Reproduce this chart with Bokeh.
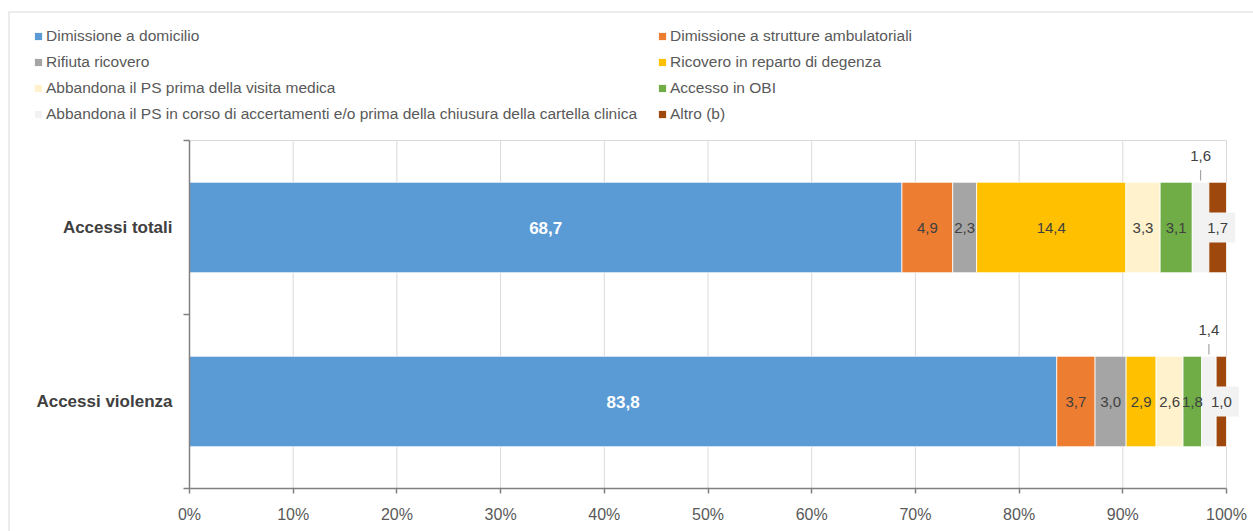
import numpy as np
from bokeh.plotting import figure
from bokeh.models import (ColumnDataSource, Legend, LegendItem, FixedTicker,
                          PrintfTickFormatter, Range1d, LinearAxis)
from bokeh.core.properties import value
from bokeh.embed import file_html
from bokeh.resources import INLINE

# ---------------- data ----------------
categories = ["Accessi violenza", "Accessi totali"]
series = [
    "Dimissione a domicilio",
    "Dimissione a strutture ambulatoriali",
    "Rifiuta ricovero",
    "Ricovero in reparto di degenza",
    "Abbandona il PS prima della visita medica",
    "Accesso in OBI",
    "Abbandona il PS in corso di accertamenti e/o prima della chiusura della cartella clinica",
    "Altro (b)",
]
colors = ["#5B9BD5", "#ED7D31", "#A5A5A5", "#FFC000", "#FFF2CC", "#70AD47", "#F2F2F2", "#9E480E"]
accessi_totali = [68.7, 4.9, 2.3, 14.4, 3.3, 3.1, 1.6, 1.7]
accessi_violenza = [83.8, 3.7, 3.0, 2.9, 2.6, 1.8, 1.4, 1.0]
x_ticks = [0, 10, 20, 30, 40, 50, 60, 70, 80, 90, 100]

FONT = "Liberation Sans"
BAR_H = 0.52
TEXT_C = "#404040"
GRID_C = "#D9D9D9"
AXIS_C = "#808080"

values_by_cat = [accessi_violenza, accessi_totali]
ypos = [i + 0.5 for i in range(len(categories))]
ncat = len(categories)

# 100% stacked: normalise every category
norm = [np.array(v) / np.sum(v) * 100 for v in values_by_cat]

data = {"y": ypos}
keys = [f"s{i}" for i in range(len(series))]
for i, k in enumerate(keys):
    data[k] = [norm[c][i] for c in range(ncat)]
src = ColumnDataSource(data)

# ---------------- layout (pixels) ----------------
FIG_W, FIG_H = 1253, 531
FR_L, FR_T = 8, 11                  # outer chart border origin
PA_L, PA_R, PA_T, PA_B = 189, 1226, 140, 488   # plot area in pixels
px_x = (PA_R - PA_L) / 100.0
px_y = (PA_B - PA_T) / ncat
x0r = -(PA_L - FR_L) / px_x
x1r = 100 + (FIG_W - PA_R) / px_x
y0r = -(FIG_H - PA_B) / px_y
y1r = ncat + (PA_T - FR_T) / px_y

p = figure(width=FIG_W, height=FIG_H, output_backend="svg", toolbar_location=None,
           x_range=Range1d(x0r, x1r), y_range=Range1d(y0r, y1r),
           x_axis_type=None, y_axis_type=None,
           min_border_left=FR_L, min_border_right=0, min_border_top=FR_T,
           min_border_bottom=0)
p.outline_line_color = None
p.background_fill_color = "white"

# outer chart border (top and left only; the rest runs past the window)
p.segment(x0=[x0r, x0r], x1=[x1r, x0r], y0=[y1r, y0r], y1=[y1r, y1r],
          line_color=GRID_C, line_width=2)

# grid lines and plot-area border
p.segment(x0=x_ticks, x1=x_ticks, y0=[0] * len(x_ticks), y1=[ncat] * len(x_ticks),
          line_color=GRID_C, line_width=1)
p.segment(x0=[0], x1=[100], y0=[ncat], y1=[ncat], line_color=GRID_C, line_width=1)

rs = p.hbar_stack(stackers=keys, y="y", height=BAR_H, color=colors,
                  line_color="white", line_width=0.8, source=src)

# ---------------- labels ----------------
norm_lbl = {"x": [], "y": [], "t": []}
main_lbl = {"x": [], "y": [], "t": []}
above_lbl = {"x": [], "y": [], "t": [], "y0": [], "y1": []}
box_lbl = {"x": [], "y": [], "t": []}
for c in range(ncat):
    cum = np.cumsum(norm[c])
    for i in range(len(series)):
        xc = cum[i] - norm[c][i] / 2
        t = f"{values_by_cat[c][i]:.1f}".replace(".", ",")
        yc = ypos[c]
        if i == 0:
            d = main_lbl
        elif i == 6:
            top = yc + BAR_H / 2
            above_lbl["x"].append(xc); above_lbl["y"].append(top)
            above_lbl["t"].append(t)
            above_lbl["y0"].append(top + 0.01); above_lbl["y1"].append(top + 0.07)
            continue
        elif i == 7:
            d = box_lbl
        else:
            d = norm_lbl
        d["x"].append(xc); d["y"].append(yc); d["t"].append(t)

p.text(x="x", y="y", text="t", source=ColumnDataSource(norm_lbl),
       text_align="center", text_baseline="middle", text_font=value(FONT),
       text_font_size="15px", text_color=TEXT_C)
p.text(x="x", y="y", text="t", source=ColumnDataSource(main_lbl),
       text_align="center", text_baseline="middle", text_font=value(FONT),
       text_font_size="17px", text_color="white", text_font_style="bold")
asrc = ColumnDataSource(above_lbl)
p.segment(x0="x", x1="x", y0="y0", y1="y1", source=asrc, line_color="#A5A5A5", line_width=1.2)
p.text(x="x", y="y", text="t", source=asrc, y_offset=-26,
       text_align="center", text_baseline="middle", text_font=value(FONT),
       text_font_size="15px", text_color=TEXT_C)
bsrc = ColumnDataSource(box_lbl)
p.rect(x="x", y="y", width=35, height=30, width_units="screen", height_units="screen",
       source=bsrc, fill_color="#F2F2F2", line_color=None)
p.text(x="x", y="y", text="t", source=bsrc,
       text_align="center", text_baseline="middle", text_font=value(FONT),
       text_font_size="15px", text_color=TEXT_C)

# ---------------- axes ----------------
xaxis = LinearAxis(fixed_location=0, bounds=(0, 100),
                   ticker=FixedTicker(ticks=x_ticks),
                   formatter=PrintfTickFormatter(format="%d%%"))
xaxis.major_label_text_font = FONT
xaxis.major_label_text_font_size = "16px"
xaxis.major_label_text_color = "#595959"
xaxis.axis_line_color = AXIS_C
xaxis.axis_line_width = 1.5
xaxis.major_tick_line_color = AXIS_C
xaxis.major_tick_line_width = 1.5
xaxis.major_tick_out = 5
xaxis.major_tick_in = 0
xaxis.minor_tick_line_color = None
xaxis.major_label_standoff = 12
p.add_layout(xaxis, "below")

yaxis = LinearAxis(fixed_location=0, bounds=(0, ncat),
                   ticker=FixedTicker(ticks=ypos, minor_ticks=list(range(ncat + 1))))
yaxis.major_label_overrides = {y: c for y, c in zip(ypos, categories)}
yaxis.major_label_text_font = FONT
yaxis.major_label_text_font_size = "17px"
yaxis.major_label_text_font_style = "bold"
yaxis.major_label_text_color = TEXT_C
yaxis.axis_line_color = AXIS_C
yaxis.axis_line_width = 1.5
yaxis.major_tick_line_color = None
yaxis.minor_tick_line_color = AXIS_C
yaxis.minor_tick_line_width = 1.5
yaxis.minor_tick_out = 6
yaxis.minor_tick_in = 0
yaxis.major_label_standoff = 11
p.add_layout(yaxis, "left")

# ---------------- legend ----------------
items = [LegendItem(label=s, renderers=[r]) for s, r in zip(series, rs)]
legend = Legend(items=items, location=(25, FIG_H - 26 - 98), orientation="horizontal", ncols=2,
                glyph_width=10, glyph_height=10, label_standoff=3, label_height=20,
                label_width=605, spacing=6, padding=0, margin=0,
                border_line_color=None, background_fill_alpha=0,
                label_text_font=FONT, label_text_font_size="15.5px",
                label_text_color="#595959")
p.add_layout(legend)

open("out.html", "w").write(file_html(p, INLINE))
